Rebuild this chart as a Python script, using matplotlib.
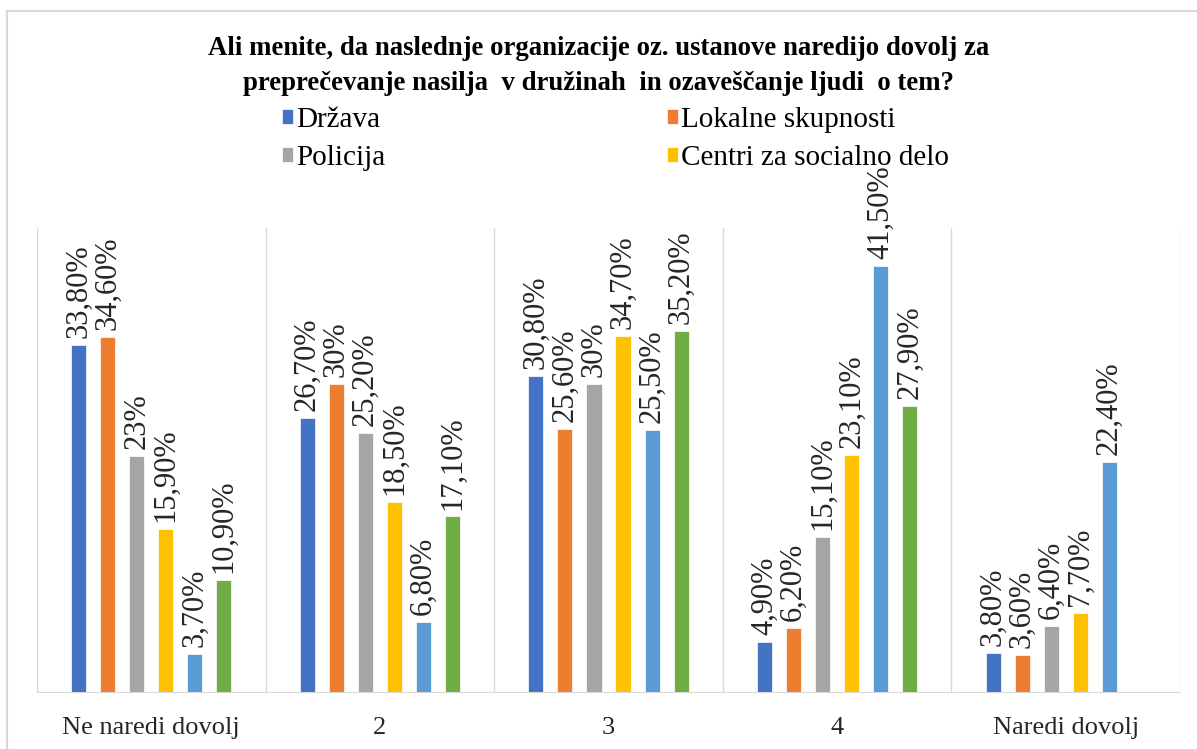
import matplotlib.pyplot as plt
from matplotlib.patches import Rectangle
import numpy as np

# data
categories = ["Ne naredi dovolj", "2", "3", "4", "Naredi dovolj"]
drzava = [33.8, 26.7, 30.8, 4.9, 3.8]
lokalne = [34.6, 30.0, 25.6, 6.2, 3.6]
policija = [23.0, 25.2, 30.0, 15.1, 6.4]
centri = [15.9, 18.5, 34.7, 23.1, 7.7]
serija5 = [3.7, 6.8, 25.5, 41.5, 22.4]
serija6 = [10.9, 17.1, 35.2, 27.9, np.nan]

series = [drzava, lokalne, policija, centri, serija5, serija6]
names = ["Država", "Lokalne skupnosti", "Policija", "Centri za socialno delo", None, None]
colors = ["#4472C4", "#ED7D31", "#A5A5A5", "#FFC000", "#5B9BD5", "#70AD47"]

title = ("Ali menite, da naslednje organizacije oz. ustanove naredijo dovolj za\n"
         "preprečevanje nasilja  v družinah  in ozaveščanje ljudi  o tem?")

plt.rcParams['font.family'] = ['Liberation Serif', 'DejaVu Serif']

fig = plt.figure(figsize=(11.97, 7.49), dpi=100)
ax = fig.add_axes([37/1197, 1-692/749, (1180-37)/1197, (692-228)/749])

x = np.arange(len(categories))
step = 0.127
width = 0.066
handles = {}
for i, (vals, col) in enumerate(zip(series, colors)):
    xs = x + (i - 2.5) * step
    b = ax.bar(xs, vals, width, color=col, edgecolor="white", linewidth=0.5, zorder=2)
    if names[i]:
        handles[names[i]] = b
    for xx, v in zip(xs, vals):
        if np.isnan(v):
            continue
        if float(v).is_integer():
            lab = "%d%%" % v
        else:
            lab = ("%.2f" % v).replace(".", ",") + "%"
        ax.annotate(lab, (xx, v), xytext=(0, 5), textcoords="offset points",
                    rotation=90, ha="center", va="bottom", fontsize=22, color="#262626")

ax.set_xlim(-0.5, len(categories) - 0.5)
ax.set_ylim(0, 45.2)
ax.set_yticks([])
ax.set_xticks(x)
ax.set_xticklabels(categories, fontsize=19, color="#262626")
ax.tick_params(axis="x", length=0, pad=18)
for b in np.arange(-0.5, len(categories), 1.0):
    ax.axvline(b, color="#D9D9D9", lw=1, zorder=1)
for s in ["top", "left", "right"]:
    ax.spines[s].set_visible(False)
ax.spines["bottom"].set_color("#D9D9D9")

fig.text(0.5, 1-66/749, title, ha="center", va="center", fontsize=19.3,
         fontweight="bold", linespacing=1.55)

order = ["Država", "Policija", "Lokalne skupnosti", "Centri za socialno delo"]
fig.legend([handles[n] for n in order], order, ncol=2, frameon=False,
           loc="upper left", bbox_to_anchor=(282/1197, 1-107/749),
           fontsize=21, handlelength=0.38, handleheight=0.42, handletextpad=0.1,
           columnspacing=9.65, labelspacing=0.42, borderaxespad=0, borderpad=0)

fig.patches.append(Rectangle((7/1197, -0.05), 1.0, (749-11)/749 + 0.05,
                             transform=fig.transFigure, fill=False,
                             edgecolor="#D9D9D9", lw=1.5))

plt.savefig("out.png", dpi=100)
